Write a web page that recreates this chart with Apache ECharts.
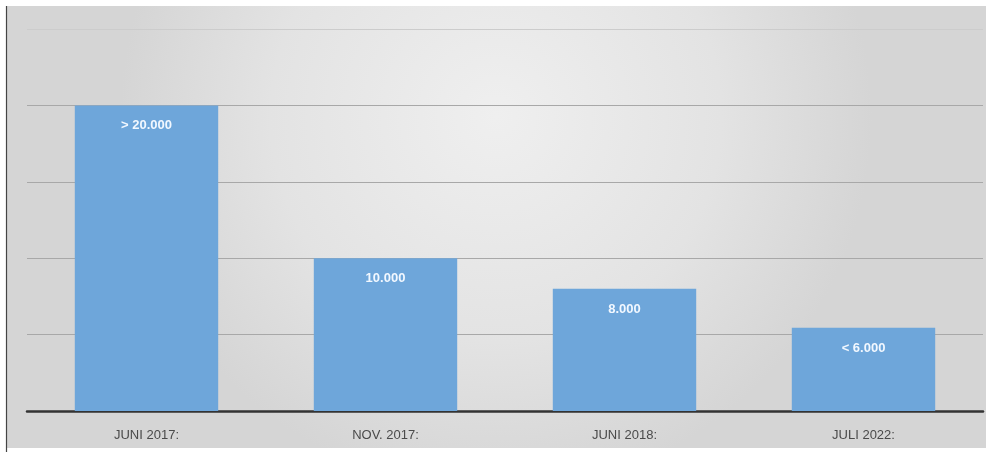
<!DOCTYPE html>
<html>
<head>
<meta charset="utf-8">
<script src="https://cdn.jsdelivr.net/npm/echarts@6/dist/echarts.min.js"></script>
<style>
html,body{margin:0;padding:0;background:#ffffff;}
#c{width:991px;height:452px;}
</style>
</head>
<body>
<div id="c"></div>
<script>
const categories = ['JUNI 2017:', 'NOV. 2017:', 'JUNI 2018:', 'JULI 2022:'];
const values = [20000, 10000, 8000, 5450];
const valueLabels = ['> 20.000', '10.000', '8.000', '< 6.000'];
const yTicks = { min: 0, max: 25000, interval: 5000 };

const chart = echarts.init(document.getElementById('c'));
chart.setOption({
  backgroundColor: '#ffffff',
  animation: false,
  graphic: [
    {
      type: 'rect', z: -10, silent: true,
      shape: { x: 6, y: 6, width: 980, height: 442 },
      style: {
        fill: {
          type: 'radial', x: 0.5, y: 0.25, r: 0.85,
          colorStops: [
            { offset: 0, color: '#efefef' },
            { offset: 0.6, color: '#e3e3e3' },
            { offset: 1, color: '#d5d5d5' }
          ]
        }
      }
    },
    {
      type: 'line', z: -5, silent: true,
      shape: { x1: 6.5, y1: 6, x2: 6.5, y2: 452 },
      style: { stroke: '#444444', lineWidth: 1.2 }
    }
  ],
  grid: { left: 27, right: 8, top: 29, bottom: 41 },
  xAxis: {
    type: 'category',
    data: categories,
    axisLine: { show: true, lineStyle: { color: '#333333', width: 2.5 } },
    axisTick: { show: false },
    axisLabel: {
      color: '#4a4a4a', fontSize: 13, margin: 18,
      fontFamily: '"Liberation Sans Narrow", "Liberation Sans", sans-serif'
    }
  },
  yAxis: {
    type: 'value',
    min: yTicks.min, max: yTicks.max, interval: yTicks.interval,
    axisLine: { show: false },
    axisTick: { show: false },
    axisLabel: { show: false },
    splitLine: { lineStyle: { color: ['#a8a8a8', '#a8a8a8', '#a8a8a8', '#a8a8a8', '#a8a8a8', '#cccccc'], width: 1.2 } }
  },
  series: [{
    type: 'bar',
    data: values,
    barWidth: '60%',
    itemStyle: { color: '#6ea6da' },
    label: {
      show: true,
      position: 'insideTop',
      distance: 14,
      color: '#f2f8ff',
      fontWeight: 'bold',
      fontSize: 13,
      fontFamily: '"Liberation Sans", Arial, sans-serif',
      formatter: (p) => valueLabels[p.dataIndex]
    }
  }]
});
</script>
</body>
</html>
